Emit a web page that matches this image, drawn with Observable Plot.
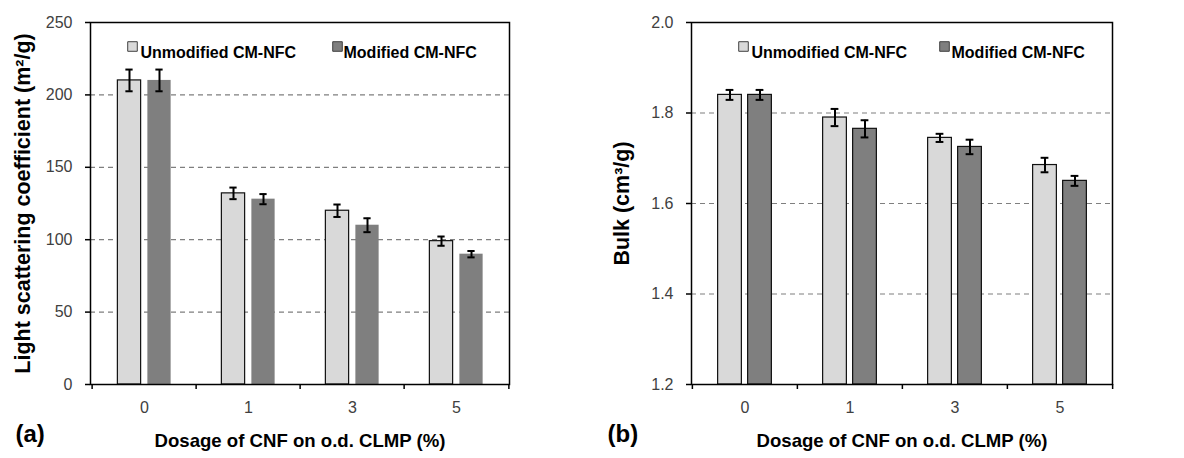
<!DOCTYPE html>
<html><head><meta charset="utf-8">
<script src="https://cdn.jsdelivr.net/npm/d3@7"></script>
<script src="https://cdn.jsdelivr.net/npm/@observablehq/plot@0.6"></script>
<style>
html,body{margin:0;padding:0;background:#fff;}
#wrap{display:flex;width:1184px;height:458px;}
#wrap svg{display:block;}
</style></head><body><div id="wrap"></div>
<script>
// ---- data ----
const dosages = ["0", "1", "3", "5"];
const seriesNames = ["Unmodified CM-NFC", "Modified CM-NFC"];

const lscUnmod = [210, 132, 120, 99];
const lscUnmodErr = [7.5, 4, 4.3, 3.2];
const lscMod = [210, 128, 110, 90];
const lscModErr = [7.5, 3.5, 4.8, 2.2];

const bulkUnmod = [1.84, 1.79, 1.745, 1.685];
const bulkUnmodErr = [0.011, 0.019, 0.009, 0.016];
const bulkMod = [1.84, 1.765, 1.725, 1.65];
const bulkModErr = [0.011, 0.019, 0.016, 0.011];

const lscTicks = [0, 50, 100, 150, 200, 250];
const lscGrid = [50, 100, 150, 200];
const bulkTicks = [1.2, 1.4, 1.6, 1.8, 2.0];
const bulkGrid = [1.4, 1.6, 1.8];

const xLabel = "Dosage of CNF on o.d. CLMP (%)";
const lscLabel = "Light scattering coefficient (m²/g)";
const bulkLabel = "Bulk (cm³/g)";

function panel(cfg) {
  const W = 592, H = 458;
  const B = (W - cfg.ml - cfg.mr) / dosages.length;
  const U = dosages.map((d, i) => ({dosage: d, series: seriesNames[0], v: cfg.unmod[i], e: cfg.unmodErr[i]}));
  const M = dosages.map((d, i) => ({dosage: d, series: seriesNames[1], v: cfg.mod[i], e: cfg.modErr[i]}));
  const y0 = cfg.domain[0];
  const half = 15, bw = 24, cap = 4;
  const errMarks = (data, off) => [
    Plot.ruleX(data, {x: "dosage", y1: d => d.v - d.e, y2: d => d.v + d.e, dx: off, stroke: "#000", strokeWidth: 2}),
    Plot.tickY(data, {x: "dosage", y: d => d.v + d.e, insetLeft: B / 2 + off - cap, insetRight: B / 2 - off - cap, stroke: "#000", strokeWidth: 2}),
    Plot.tickY(data, {x: "dosage", y: d => d.v - d.e, insetLeft: B / 2 + off - cap, insetRight: B / 2 - off - cap, stroke: "#000", strokeWidth: 2})
  ];
  return Plot.plot({
    width: W, height: H,
    marginLeft: cfg.ml, marginRight: cfg.mr, marginTop: 22, marginBottom: 74,
    style: {fontFamily: "'Liberation Sans', Arial, sans-serif", fontSize: "16px", background: "#fff", overflow: "visible"},
    x: {type: "band", domain: dosages, padding: 0},
    y: {domain: cfg.domain},
    marks: [
      Plot.gridY(cfg.grid, {stroke: "#7f7f7f", strokeOpacity: 1, strokeWidth: 1.2, strokeDasharray: "5,4"}),
      Plot.barY(U, {x: "dosage", y1: y0, y2: "v", fill: "#d9d9d9", stroke: "#111", strokeWidth: 1.2,
        insetLeft: B / 2 - half - bw / 2, insetRight: B / 2 + half - bw / 2}),
      Plot.barY(M, {x: "dosage", y1: y0, y2: "v", fill: "#7f7f7f", stroke: cfg.modStroke, strokeWidth: 1.2,
        insetLeft: B / 2 + half - bw / 2, insetRight: B / 2 - half - bw / 2}),
      ...errMarks(U, -half),
      ...errMarks(M, half),
      Plot.frame({stroke: "#000", strokeWidth: 1.5}),
      Plot.axisY(cfg.ticks, {tickSize: 5, tickPadding: 13, stroke: "#000", strokeWidth: 1.5, fill: "#404040", label: null, tickFormat: cfg.fmt}),
      Plot.axisX(dosages, {tickSize: 0, tickPadding: 17, fill: "#404040", label: null}),
      Plot.axisX(dosages, {tickSize: 5, dx: -B / 2, fill: "none", stroke: "#000", strokeWidth: 1.5, label: null}),
      Plot.axisX([dosages[dosages.length - 1]], {tickSize: 5, dx: B / 2, fill: "none", stroke: "#000", strokeWidth: 1.5, label: null}),
      Plot.text([cfg.yLabel], {text: d => d, frameAnchor: "left", textAnchor: "middle", rotate: -90, dx: cfg.yLabelDx, fontSize: 21.5, fontWeight: "bold", fill: "#000"}),
      Plot.text([xLabel], {text: d => d, frameAnchor: "bottom", textAnchor: "middle", dy: 62, fontSize: 18.6, fontWeight: "bold", fill: "#000"}),
      Plot.text([cfg.tag], {text: d => d, frameAnchor: "bottom-left", dx: cfg.tagDx, dy: 57, textAnchor: "start", fontSize: 24, fontWeight: "bold", fill: "#000"}),
      // legend
      Plot.dot([seriesNames[0]], {frameAnchor: "top-left", dx: cfg.leg[0], dy: 24, symbol: "square", r: 5.4, fill: "#d9d9d9", stroke: "#404040", strokeWidth: 1}),
      Plot.text([seriesNames[0]], {text: d => d, frameAnchor: "top-left", dx: cfg.leg[1], dy: 24, textAnchor: "start", fontSize: 16, fontWeight: "bold", fill: "#000"}),
      Plot.dot([seriesNames[1]], {frameAnchor: "top-left", dx: cfg.leg[2], dy: 24, symbol: "square", r: 5.4, fill: "#7f7f7f", stroke: "#404040", strokeWidth: 1}),
      Plot.text([seriesNames[1]], {text: d => d, frameAnchor: "top-left", dx: cfg.leg[3], dy: 24, textAnchor: "start", fontSize: 16, fontWeight: "bold", fill: "#000"})
    ]
  });
}

const wrap = document.getElementById("wrap");
wrap.append(panel({
  ml: 90, mr: 83, domain: [0, 250], ticks: lscTicks, grid: lscGrid, fmt: d3.format("d"),
  unmod: lscUnmod, unmodErr: lscUnmodErr, mod: lscMod, modErr: lscModErr,
  modStroke: "none", yLabel: lscLabel, yLabelDx: -67, tag: "(a)", tagDx: -75,
  leg: [42, 50, 247, 253]
}));
wrap.append(panel({
  ml: 99, mr: 72, domain: [1.2, 2.0], ticks: bulkTicks, grid: bulkGrid, fmt: d3.format(".1f"),
  unmod: bulkUnmod, unmodErr: bulkUnmodErr, mod: bulkMod, modErr: bulkModErr,
  modStroke: "#111", yLabel: bulkLabel, yLabelDx: -69, tag: "(b)", tagDx: -84,
  leg: [52, 60, 253, 260]
}));
</script>
</body></html>
